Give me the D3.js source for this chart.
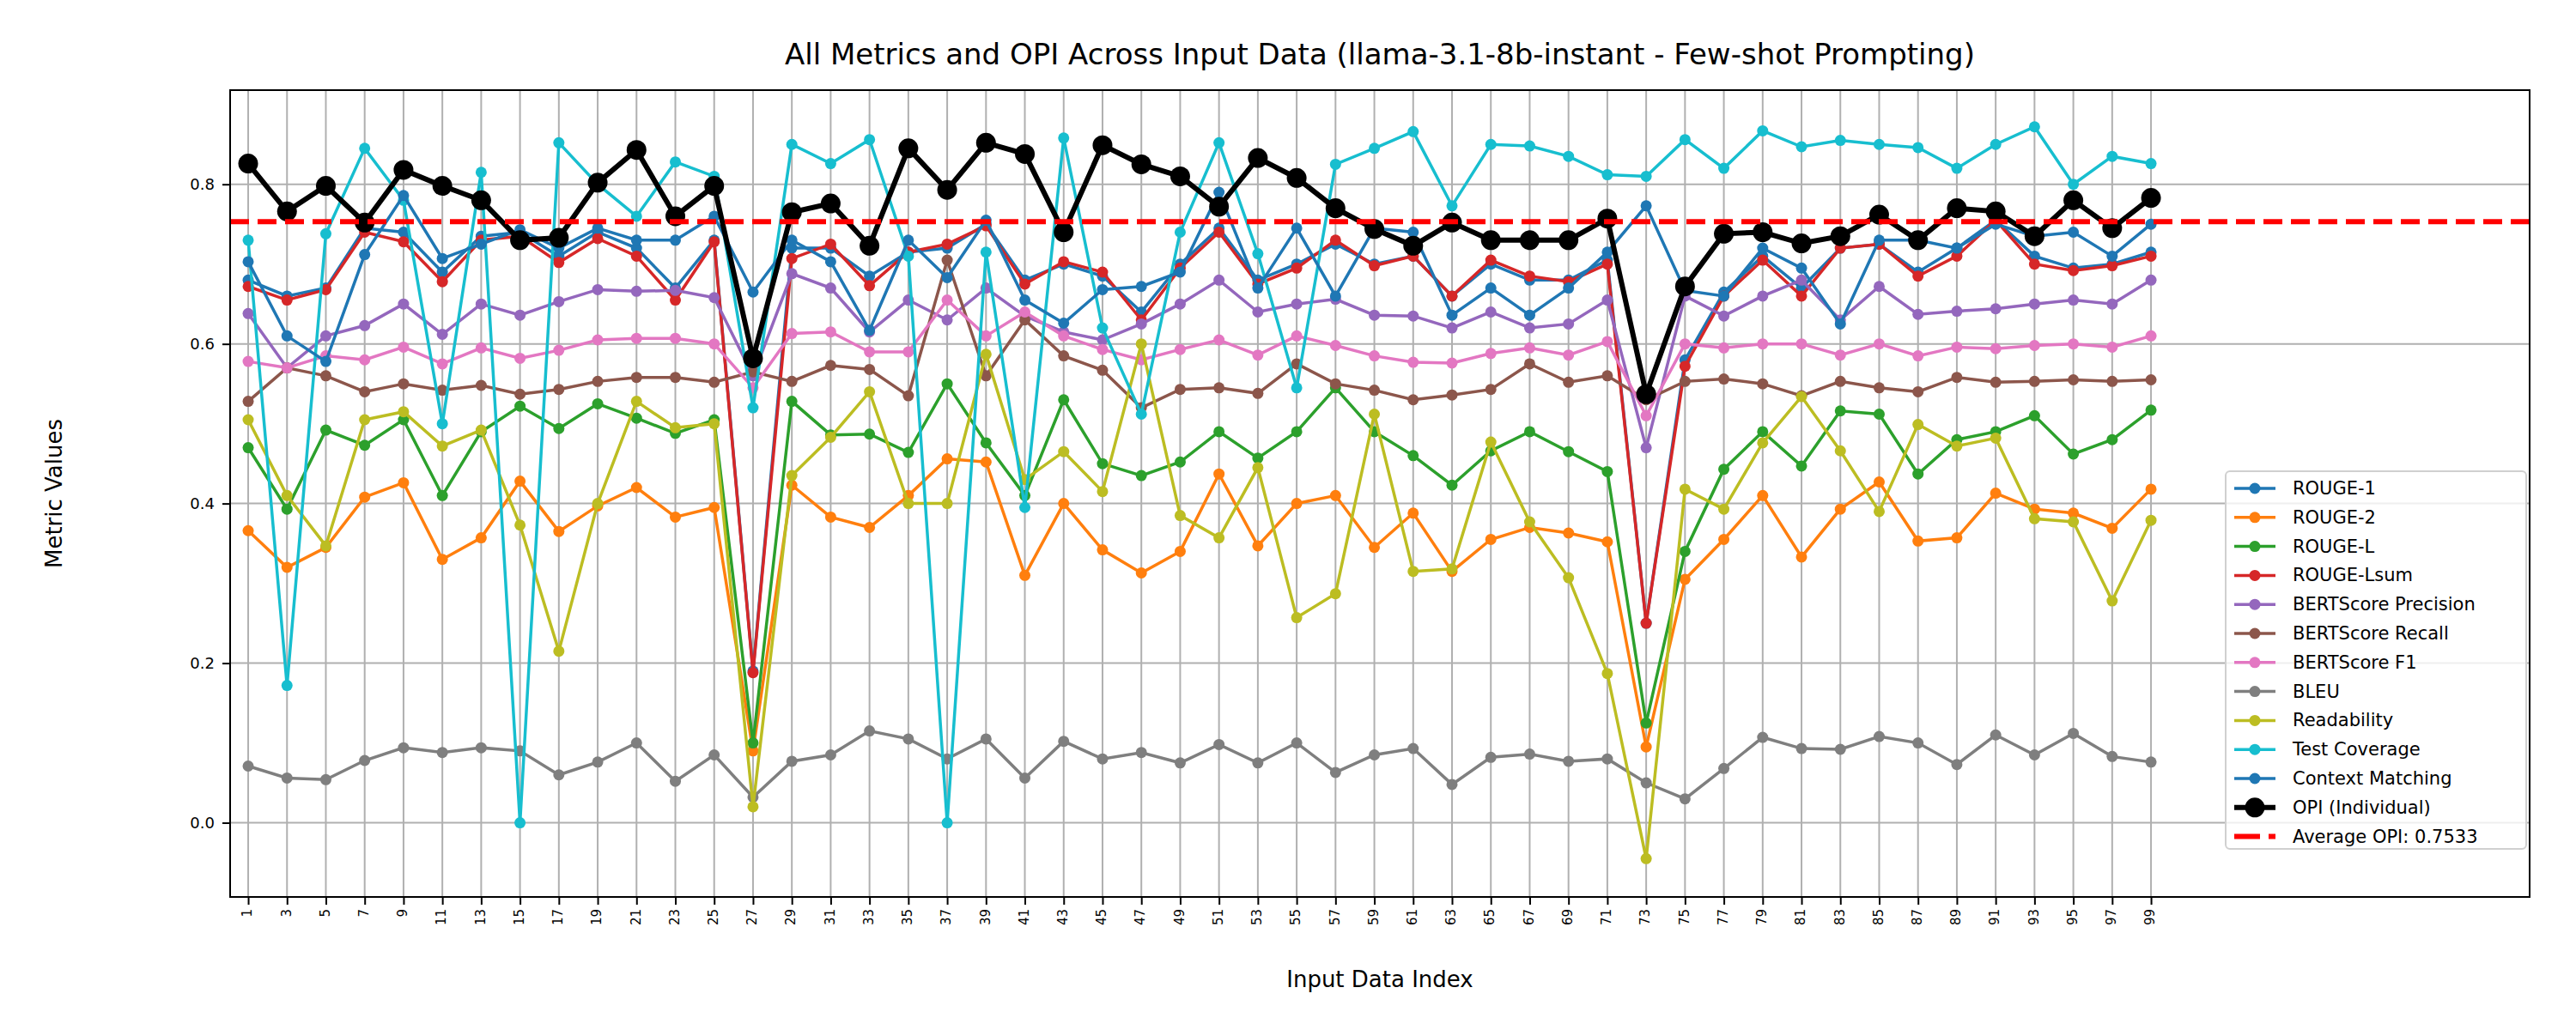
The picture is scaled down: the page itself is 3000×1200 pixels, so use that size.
<!DOCTYPE html>
<html>
<head>
<meta charset="utf-8">
<script src="https://cdn.jsdelivr.net/npm/d3@7"></script>
<style>
body { margin: 0; background: #fff; }
text { font-family: "DejaVu Sans", sans-serif; }
</style>
</head>
<body>
<div id="chart"></div>
<script>
var width = 3000, height = 1200;
var margin = {top: 105, right: 54, bottom: 155, left: 268};

var indices = [];
for (var k = 1; k <= 99; k += 2) indices.push(k);

var rouge1 = [0.68,0.66,0.67,0.745,0.74,0.69,0.735,0.74,0.71,0.74,0.72,0.67,0.73,0.19,0.72,0.72,0.685,0.715,0.72,0.75,0.68,0.70,0.685,0.64,0.70,0.745,0.68,0.70,0.725,0.70,0.71,0.66,0.70,0.68,0.68,0.705,0.25,0.58,0.665,0.71,0.67,0.72,0.725,0.69,0.72,0.755,0.71,0.695,0.70,0.715];
var rouge2 = [0.366,0.32,0.345,0.408,0.426,0.33,0.357,0.428,0.365,0.397,0.42,0.383,0.395,0.09,0.423,0.383,0.37,0.41,0.456,0.452,0.31,0.40,0.342,0.313,0.34,0.437,0.347,0.40,0.41,0.345,0.388,0.315,0.355,0.37,0.363,0.352,0.095,0.305,0.355,0.41,0.333,0.393,0.427,0.353,0.357,0.413,0.393,0.388,0.369,0.418];
var rougeL = [0.47,0.393,0.492,0.473,0.505,0.41,0.49,0.522,0.494,0.525,0.507,0.488,0.505,0.10,0.528,0.486,0.487,0.464,0.55,0.476,0.41,0.53,0.45,0.435,0.452,0.49,0.457,0.49,0.545,0.49,0.46,0.423,0.466,0.49,0.465,0.44,0.125,0.34,0.443,0.49,0.447,0.516,0.512,0.437,0.48,0.49,0.51,0.462,0.48,0.517];
var rougeLsum = [0.672,0.655,0.668,0.74,0.728,0.678,0.73,0.735,0.702,0.732,0.71,0.655,0.728,0.188,0.707,0.725,0.673,0.715,0.725,0.748,0.675,0.703,0.69,0.63,0.695,0.74,0.675,0.695,0.73,0.698,0.71,0.66,0.705,0.685,0.678,0.70,0.25,0.572,0.66,0.705,0.66,0.72,0.725,0.685,0.71,0.755,0.70,0.692,0.698,0.71];
var bertP = [0.638,0.57,0.61,0.623,0.65,0.612,0.65,0.636,0.653,0.668,0.666,0.667,0.658,0.56,0.688,0.67,0.615,0.655,0.63,0.67,0.635,0.615,0.605,0.625,0.65,0.68,0.64,0.65,0.656,0.636,0.635,0.62,0.64,0.62,0.625,0.655,0.47,0.66,0.635,0.66,0.68,0.63,0.672,0.637,0.641,0.644,0.65,0.655,0.65,0.68];
var bertR = [0.528,0.57,0.56,0.54,0.55,0.542,0.548,0.537,0.543,0.553,0.558,0.558,0.552,0.565,0.553,0.573,0.568,0.535,0.705,0.56,0.63,0.585,0.567,0.52,0.543,0.545,0.538,0.575,0.55,0.542,0.53,0.536,0.543,0.575,0.552,0.56,0.53,0.553,0.556,0.55,0.535,0.553,0.545,0.54,0.558,0.552,0.553,0.555,0.553,0.555];
var bertF1 = [0.578,0.57,0.585,0.58,0.596,0.575,0.595,0.582,0.592,0.605,0.607,0.607,0.60,0.545,0.613,0.615,0.59,0.59,0.655,0.61,0.64,0.61,0.593,0.58,0.593,0.605,0.586,0.61,0.598,0.585,0.577,0.576,0.588,0.595,0.586,0.603,0.51,0.60,0.595,0.60,0.60,0.586,0.60,0.585,0.596,0.594,0.598,0.60,0.596,0.61];
var bleu = [0.071,0.056,0.054,0.078,0.094,0.088,0.094,0.09,0.06,0.076,0.10,0.052,0.085,0.032,0.077,0.085,0.115,0.105,0.08,0.105,0.056,0.102,0.08,0.088,0.075,0.098,0.075,0.10,0.063,0.085,0.093,0.048,0.082,0.086,0.077,0.08,0.05,0.03,0.068,0.107,0.093,0.092,0.108,0.10,0.073,0.11,0.085,0.112,0.083,0.076];
var readability = [0.505,0.41,0.347,0.505,0.515,0.472,0.492,0.373,0.215,0.40,0.528,0.495,0.50,0.02,0.435,0.483,0.54,0.40,0.40,0.587,0.43,0.465,0.415,0.60,0.385,0.357,0.445,0.257,0.287,0.512,0.315,0.318,0.477,0.377,0.307,0.187,-0.045,0.418,0.393,0.476,0.534,0.466,0.39,0.499,0.472,0.482,0.381,0.377,0.278,0.379];
var testCoverage = [0.73,0.172,0.738,0.845,0.78,0.50,0.815,0.0,0.852,0.80,0.76,0.828,0.81,0.52,0.85,0.826,0.856,0.71,0.0,0.715,0.395,0.858,0.62,0.512,0.74,0.852,0.713,0.545,0.825,0.845,0.866,0.773,0.85,0.848,0.835,0.812,0.81,0.856,0.82,0.867,0.847,0.855,0.85,0.846,0.82,0.85,0.872,0.80,0.835,0.826];
var contextMatching = [0.703,0.61,0.578,0.712,0.786,0.707,0.725,0.743,0.72,0.745,0.73,0.73,0.76,0.665,0.73,0.703,0.617,0.73,0.683,0.755,0.655,0.626,0.668,0.672,0.69,0.79,0.67,0.745,0.66,0.745,0.74,0.636,0.67,0.636,0.67,0.715,0.773,0.667,0.66,0.72,0.695,0.625,0.73,0.73,0.72,0.75,0.735,0.74,0.71,0.75];
var opi = [0.826,0.766,0.798,0.752,0.818,0.798,0.78,0.73,0.733,0.802,0.843,0.76,0.798,0.582,0.765,0.776,0.723,0.845,0.793,0.852,0.838,0.74,0.849,0.825,0.81,0.772,0.833,0.808,0.77,0.744,0.723,0.752,0.73,0.73,0.73,0.757,0.537,0.672,0.738,0.74,0.726,0.735,0.762,0.73,0.77,0.766,0.735,0.78,0.745,0.783];
var avgOpi = 0.7533;
var yTicks = [0.0, 0.2, 0.4, 0.6, 0.8];

var series = [
    {name: "ROUGE-1", values: rouge1, color: "#1f77b4"},
    {name: "ROUGE-2", values: rouge2, color: "#ff7f0e"},
    {name: "ROUGE-L", values: rougeL, color: "#2ca02c"},
    {name: "ROUGE-Lsum", values: rougeLsum, color: "#d62728"},
    {name: "BERTScore Precision", values: bertP, color: "#9467bd"},
    {name: "BERTScore Recall", values: bertR, color: "#8c564b"},
    {name: "BERTScore F1", values: bertF1, color: "#e377c2"},
    {name: "BLEU", values: bleu, color: "#7f7f7f"},
    {name: "Readability", values: readability, color: "#bcbd22"},
    {name: "Test Coverage", values: testCoverage, color: "#17becf"},
    {name: "Context Matching", values: contextMatching, color: "#1f77b4"},
    {name: "OPI (Individual)", values: opi, color: "#000000", big: true}
];

var svg = d3.select("#chart").append("svg")
    .attr("width", width)
    .attr("height", height);

var x = d3.scaleLinear().domain([0.07, 118.5]).range([margin.left, width - margin.right]);
var y = d3.scaleLinear().domain([-0.093, 0.918]).range([height - margin.bottom, margin.top]);

// grid
svg.append("g").selectAll("line").data(indices).enter().append("line")
    .attr("x1", function(d){ return x(d); }).attr("x2", function(d){ return x(d); })
    .attr("y1", margin.top).attr("y2", height - margin.bottom)
    .attr("stroke", "#b0b0b0").attr("stroke-width", 2);
svg.append("g").selectAll("line").data(yTicks).enter().append("line")
    .attr("x1", margin.left).attr("x2", width - margin.right)
    .attr("y1", function(d){ return y(d); }).attr("y2", function(d){ return y(d); })
    .attr("stroke", "#b0b0b0").attr("stroke-width", 2);

var line = d3.line()
    .x(function(d, i){ return x(indices[i]); })
    .y(function(d){ return y(d); });

var plot = svg.append("g");
series.forEach(function(s) {
    var g = plot.append("g");
    g.append("path").datum(s.values)
        .attr("d", line)
        .attr("fill", "none")
        .attr("stroke", s.color)
        .attr("stroke-width", s.big ? 6 : 3.5);
    g.selectAll("circle").data(s.values).enter().append("circle")
        .attr("cx", function(d, i){ return x(indices[i]); })
        .attr("cy", function(d){ return y(d); })
        .attr("r", s.big ? 11.5 : 6.5)
        .attr("fill", s.color);
});

// average line
svg.append("line")
    .attr("x1", margin.left).attr("x2", width - margin.right)
    .attr("y1", y(avgOpi)).attr("y2", y(avgOpi))
    .attr("stroke", "#ff0000").attr("stroke-width", 6)
    .attr("stroke-dasharray", "22,10");

// axes
var xAxis = svg.append("g")
    .attr("transform", "translate(0," + (height - margin.bottom) + ")")
    .call(d3.axisBottom(x).tickValues(indices).tickSize(9).tickSizeOuter(0));
xAxis.selectAll("text")
    .attr("transform", "rotate(-90)")
    .attr("text-anchor", "end")
    .attr("dx", "-14px").attr("dy", "-0.55em")
    .style("font-size", "15px");

var yAxis = svg.append("g")
    .attr("transform", "translate(" + margin.left + ",0)")
    .call(d3.axisLeft(y).tickValues(yTicks).tickFormat(d3.format(".1f")).tickSize(9).tickSizeOuter(0));
yAxis.selectAll("text").style("font-size", "18px").attr("dx", "-6px");

svg.selectAll(".domain").remove();
svg.selectAll(".tick line").attr("stroke-width", 2);
svg.append("rect")
    .attr("x", margin.left).attr("y", margin.top)
    .attr("width", width - margin.left - margin.right)
    .attr("height", height - margin.top - margin.bottom)
    .attr("fill", "none").attr("stroke", "#000").attr("stroke-width", 2);

// titles
svg.append("text").attr("x", (margin.left + width - margin.right) / 2).attr("y", 75)
    .attr("text-anchor", "middle").style("font-size", "34px")
    .text("All Metrics and OPI Across Input Data (llama-3.1-8b-instant - Few-shot Prompting)");
svg.append("text").attr("x", (margin.left + width - margin.right) / 2).attr("y", 1150)
    .attr("text-anchor", "middle").style("font-size", "26px")
    .text("Input Data Index");
svg.append("text").attr("transform", "translate(72," + ((margin.top + height - margin.bottom) / 2) + ") rotate(-90)")
    .attr("text-anchor", "middle").style("font-size", "26px")
    .text("Metric Values");

// legend
var legendItems = series.concat([{name: "Average OPI: " + avgOpi.toFixed(4), color: "#ff0000", dashed: true}]);
var lx = 2592, ly = 549, rowH = 33.8;
var legend = svg.append("g");
legend.append("rect").attr("x", lx).attr("y", ly).attr("width", 350).attr("height", 440)
    .attr("rx", 5).attr("fill", "#fff").attr("fill-opacity", 0.8)
    .attr("stroke", "#d0d0d0").attr("stroke-width", 2);
legendItems.forEach(function(s, i) {
    var cy = ly + 20 + i * rowH;
    if (s.dashed) {
        legend.append("line").attr("x1", lx + 10).attr("x2", lx + 58).attr("y1", cy).attr("y2", cy)
            .attr("stroke", s.color).attr("stroke-width", 6).attr("stroke-dasharray", "30,10");
    } else {
        legend.append("line").attr("x1", lx + 10).attr("x2", lx + 58).attr("y1", cy).attr("y2", cy)
            .attr("stroke", s.color).attr("stroke-width", s.big ? 6 : 3.5);
        legend.append("circle").attr("cx", lx + 34).attr("cy", cy).attr("r", s.big ? 11.5 : 6.5).attr("fill", s.color);
    }
    legend.append("text").attr("x", lx + 78).attr("y", cy + 7).style("font-size", "21px").text(s.name);
});
</script>
</body>
</html>
